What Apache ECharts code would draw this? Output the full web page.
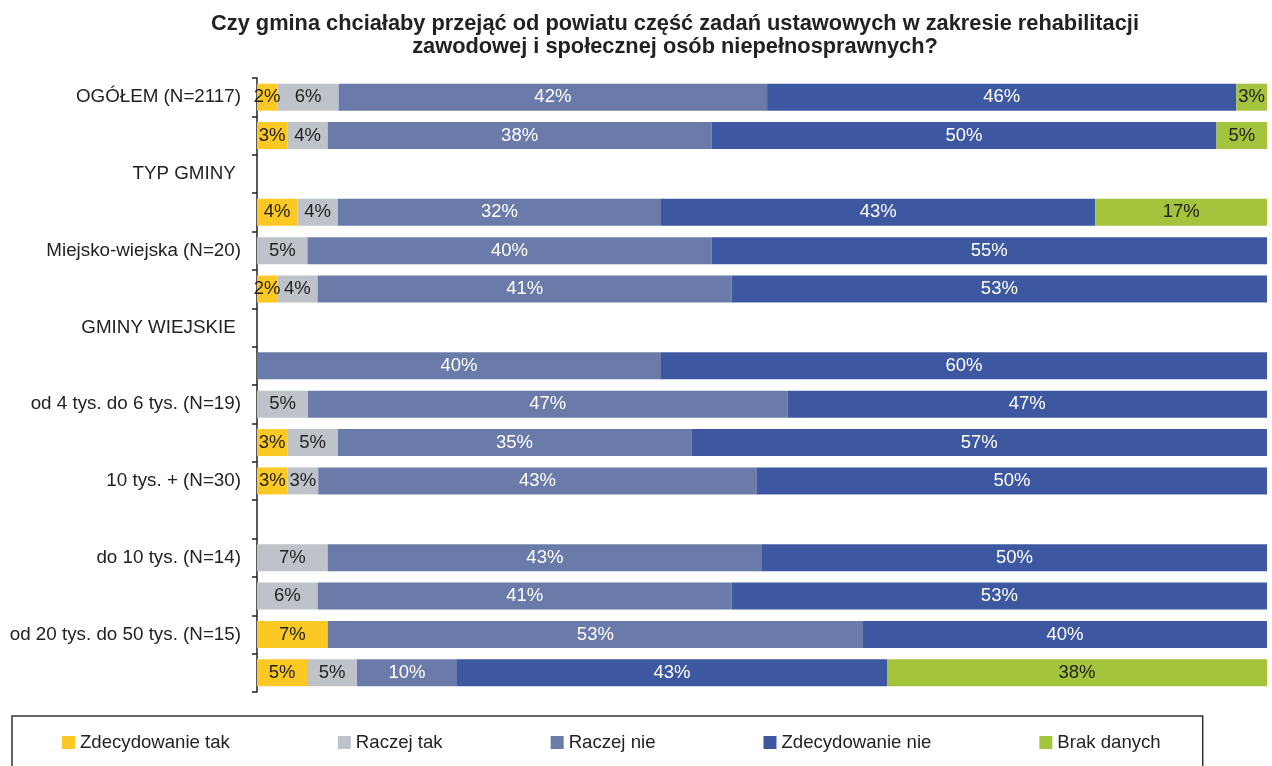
<!DOCTYPE html>
<html>
<head>
<meta charset="utf-8">
<script src="https://cdn.jsdelivr.net/npm/echarts@6/dist/echarts.min.js"></script>
<style>
  html, body { margin: 0; padding: 0; background: #fff; }
  #chart { width: 1272px; height: 766px; }
</style>
</head>
<body>
<div id="chart"></div>
<script>
// kategorie (co druga etykieta widoczna, jak w oryginale)
const categories = [
  'OGÓŁEM (N=2117)', '', 'TYP GMINY ', '', 'Miejsko-wiejska (N=20)', '',
  'GMINY WIEJSKIE ', '', 'od 4 tys. do 6 tys. (N=19)', '', '10 tys. + (N=30)', '',
  'do 10 tys. (N=14)', '', 'od 20 tys. do 50 tys. (N=15)', ''
]
const seriesNames = ['Zdecydowanie tak', 'Raczej tak', 'Raczej nie', 'Zdecydowanie nie', 'Brak danych']
const zdecydowanieTak = [2, 3, 0, 4, 0, 2, 0, 0, 0, 3, 3, 0, 0, 0, 7, 5]
const raczejTak = [6, 4, 0, 4, 5, 4, 0, 0, 5, 5, 3, 0, 7, 6, 0, 5]
const raczejNie = [42, 38, 0, 32, 40, 41, 0, 40, 47, 35, 43, 0, 43, 41, 53, 10]
const zdecydowanieNie = [46, 50, 0, 43, 55, 53, 0, 60, 47, 57, 50, 0, 50, 53, 40, 43]
const brakDanych = [3, 5, 0, 17, 0, 0, 0, 0, 0, 0, 0, 0, 0, 0, 0, 38]

const colors = ['#FCC824', '#BEC3CA', '#6A7BAA', '#3D58A1', '#A4C43D']
const labelColors = ['#222', '#222', '#fff', '#fff', '#222']
const allValues = [zdecydowanieTak, raczejTak, raczejNie, zdecydowanieNie, brakDanych]
const FONT = 'Liberation Sans, Arial, sans-serif'

// sumy wierszy - słupki wypełniają 100% (wartości zaokrąglone)
const rowTotals = categories.map((c, i) => allValues.reduce((s, arr) => s + arr[i], 0))

const series = allValues.map((arr, k) => ({
  name: seriesNames[k],
  type: 'bar',
  stack: 'total',
  barWidth: 27,
  itemStyle: { color: colors[k] },
  label: {
    show: true,
    position: 'inside',
    color: labelColors[k],
    fontFamily: FONT,
    fontSize: 18.5,
    formatter: p => (p.data && p.data.raw > 0 ? p.data.raw + '%' : '')
  },
  data: arr.map((v, i) => ({
    value: v > 0 ? (v * 100) / rowTotals[i] : '-',
    raw: v
  }))
}))

const chart = echarts.init(document.getElementById('chart'))
const option = {
  animation: false,
  title: {
    text: 'Czy gmina chciałaby przejąć od powiatu część zadań ustawowych w zakresie rehabilitacji\nzawodowej i społecznej osób niepełnosprawnych?',
    left: 670,
    top: 7,
    textAlign: 'center',
    textStyle: {
      fontFamily: FONT,
      fontSize: 21.8,
      fontWeight: 'bold',
      color: '#222',
      lineHeight: 23
    }
  },
  legend: {
    data: seriesNames,
    left: 12,
    top: 716,
    itemWidth: 13,
    itemHeight: 13,
    itemGap: 108,
    icon: 'rect',
    borderColor: '#333',
    borderWidth: 1.5,
    padding: [17, 42, 40, 50],
    textStyle: {
      fontFamily: FONT,
      fontSize: 18.6,
      color: '#222'
    }
  },
  grid: {
    left: 257,
    right: 5,
    top: 78,
    bottom: 74,
    containLabel: false
  },
  xAxis: {
    type: 'value',
    min: 0,
    max: 100,
    show: false
  },
  yAxis: {
    type: 'category',
    inverse: true,
    data: categories,
    axisLine: { show: true, lineStyle: { color: '#222', width: 1.5 } },
    axisTick: { show: true, length: 5, lineStyle: { color: '#222', width: 1.5 } },
    axisLabel: {
      interval: 0,
      margin: 16,
      fontFamily: FONT,
      fontSize: 18.8,
      color: '#222'
    }
  },
  series: series
}
chart.setOption(option)
</script>
</body>
</html>
